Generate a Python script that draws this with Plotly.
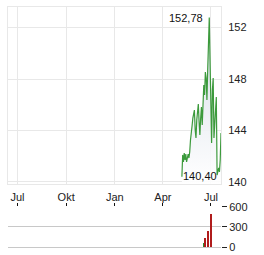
import pandas as pd
import plotly.graph_objects as go
from plotly.subplots import make_subplots

# ---- data ----
price_values = [140.40, 142.10, 141.55, 142.25, 141.71, 142.17, 141.55, 141.86, 142.17, 141.86,
                142.33, 143.26, 144.19, 144.35, 144.97, 145.44, 145.59, 144.04, 143.42, 144.82,
                145.59, 146.06, 144.66, 143.65, 144.97, 145.83, 144.43, 146.37, 147.53, 146.76,
                148.54, 148.08, 146.37, 148.70, 151.03, 152.78, 149.48, 144.82, 143.03, 147.15,
                148.08, 143.42, 144.43, 145.59, 146.60, 140.54, 140.93, 141.09, 140.78, 141.71,
                143.81]
price_start = "2024-05-07"
price_end = "2024-07-20"

volume_dates = ["2024-06-19", "2024-06-21", "2024-06-26", "2024-07-02"]
volume_values = [60, 135, 245, 500]
volume_colors = ["#2e8b2e", "#b01c1c", "#b01c1c", "#b01c1c"]

tick_dates = ["2023-07-01", "2023-10-01", "2024-01-01", "2024-04-01", "2024-07-01"]
tick_labels = ["Jul", "Okt", "Jan", "Apr", "Jul"]
x_range = ["2023-06-13", "2024-07-20"]
y_range = [139.84, 153.6]
price_ticks = [140, 144, 148, 152]
volume_ticks = [0, 300, 600]

dates = pd.date_range(price_start, price_end, periods=len(price_values))

fig = make_subplots(rows=2, cols=1, shared_xaxes=False, vertical_spacing=0.0,
                    row_heights=[0.74, 0.26])

fig.add_trace(go.Scatter(
    x=dates, y=price_values, mode="lines",
    line=dict(color="#3c9a3c", width=1.2),
    fill="tozeroy",
    fillgradient=dict(type="vertical", start=y_range[0], stop=max(price_values),
                      colorscale=[[0, "rgba(255,255,255,0.9)"], [1, "rgba(208,216,228,0.9)"]]),
    hoverinfo="skip", showlegend=False), row=1, col=1)

fig.add_trace(go.Bar(
    x=pd.to_datetime(volume_dates), y=volume_values,
    marker=dict(color=volume_colors, line=dict(width=0)),
    width=2.6 * 86400000, showlegend=False, hoverinfo="skip"), row=2, col=1)

imax = max(range(len(price_values)), key=lambda i: price_values[i])
imin = min(range(len(price_values)), key=lambda i: price_values[i])
fmt = lambda v: f"{v:.2f}".replace(".", ",")
fig.add_annotation(x=dates[imax], y=price_values[imax], xref="x", yref="y",
                   text=fmt(price_values[imax]), showarrow=False,
                   xanchor="right", yanchor="middle", xshift=-4,
                   font=dict(size=11, color="#111"))
fig.add_annotation(x=dates[imin], y=price_values[imin], xref="x", yref="y",
                   text=fmt(price_values[imin]), showarrow=False,
                   xanchor="left", yanchor="middle", xshift=-1, yshift=1,
                   font=dict(size=11, color="#111"))

grid = "#e8e8e8"
fig.update_layout(
    width=264, height=255,
    margin=dict(l=8, r=43, t=7, b=8, autoexpand=False),
    paper_bgcolor="white", plot_bgcolor="white",
    font=dict(family="Liberation Sans, Arial, sans-serif", size=11, color="#222"),
    bargap=0,
)
fig.update_xaxes(row=1, col=1, type="date", range=x_range, automargin=False,
                 tickvals=tick_dates, ticktext=tick_labels,
                 showgrid=True, gridcolor=grid, gridwidth=1,
                 showline=True, linecolor=grid, mirror=True,
                 ticks="outside", ticklen=3, tickcolor="rgba(0,0,0,0)",
                 tickfont=dict(size=11, color="#222"))
fig.update_yaxes(row=1, col=1, range=y_range, side="right", automargin=False,
                 tickvals=price_ticks, showgrid=True, gridcolor=grid,
                 showline=True, linecolor=grid, mirror=True, zeroline=False,
                 ticks="outside", ticklen=4, tickcolor="rgba(0,0,0,0)",
                 tickfont=dict(size=11, color="#222"))
fig.update_xaxes(row=2, col=1, type="date", range=x_range, automargin=False,
                 tickvals=tick_dates, showticklabels=False, side="top",
                 showgrid=False, ticks="outside", ticklen=3, tickcolor="#111",
                 showline=False)
fig.update_yaxes(row=2, col=1, range=[0, 600], side="right", automargin=False,
                 tickvals=volume_ticks, showgrid=True, gridcolor="#c8c8c8",
                 zeroline=True, zerolinecolor="#c8c8c8", zerolinewidth=1,
                 ticks="outside", ticklen=5, tickcolor="#222",
                 tickfont=dict(size=11, color="#222"))

# domains to match reference layout
fig.update_layout(yaxis=dict(domain=[0.2625, 1.0]), yaxis2=dict(domain=[0.0, 0.1667]))

fig.write_html("out.html")
